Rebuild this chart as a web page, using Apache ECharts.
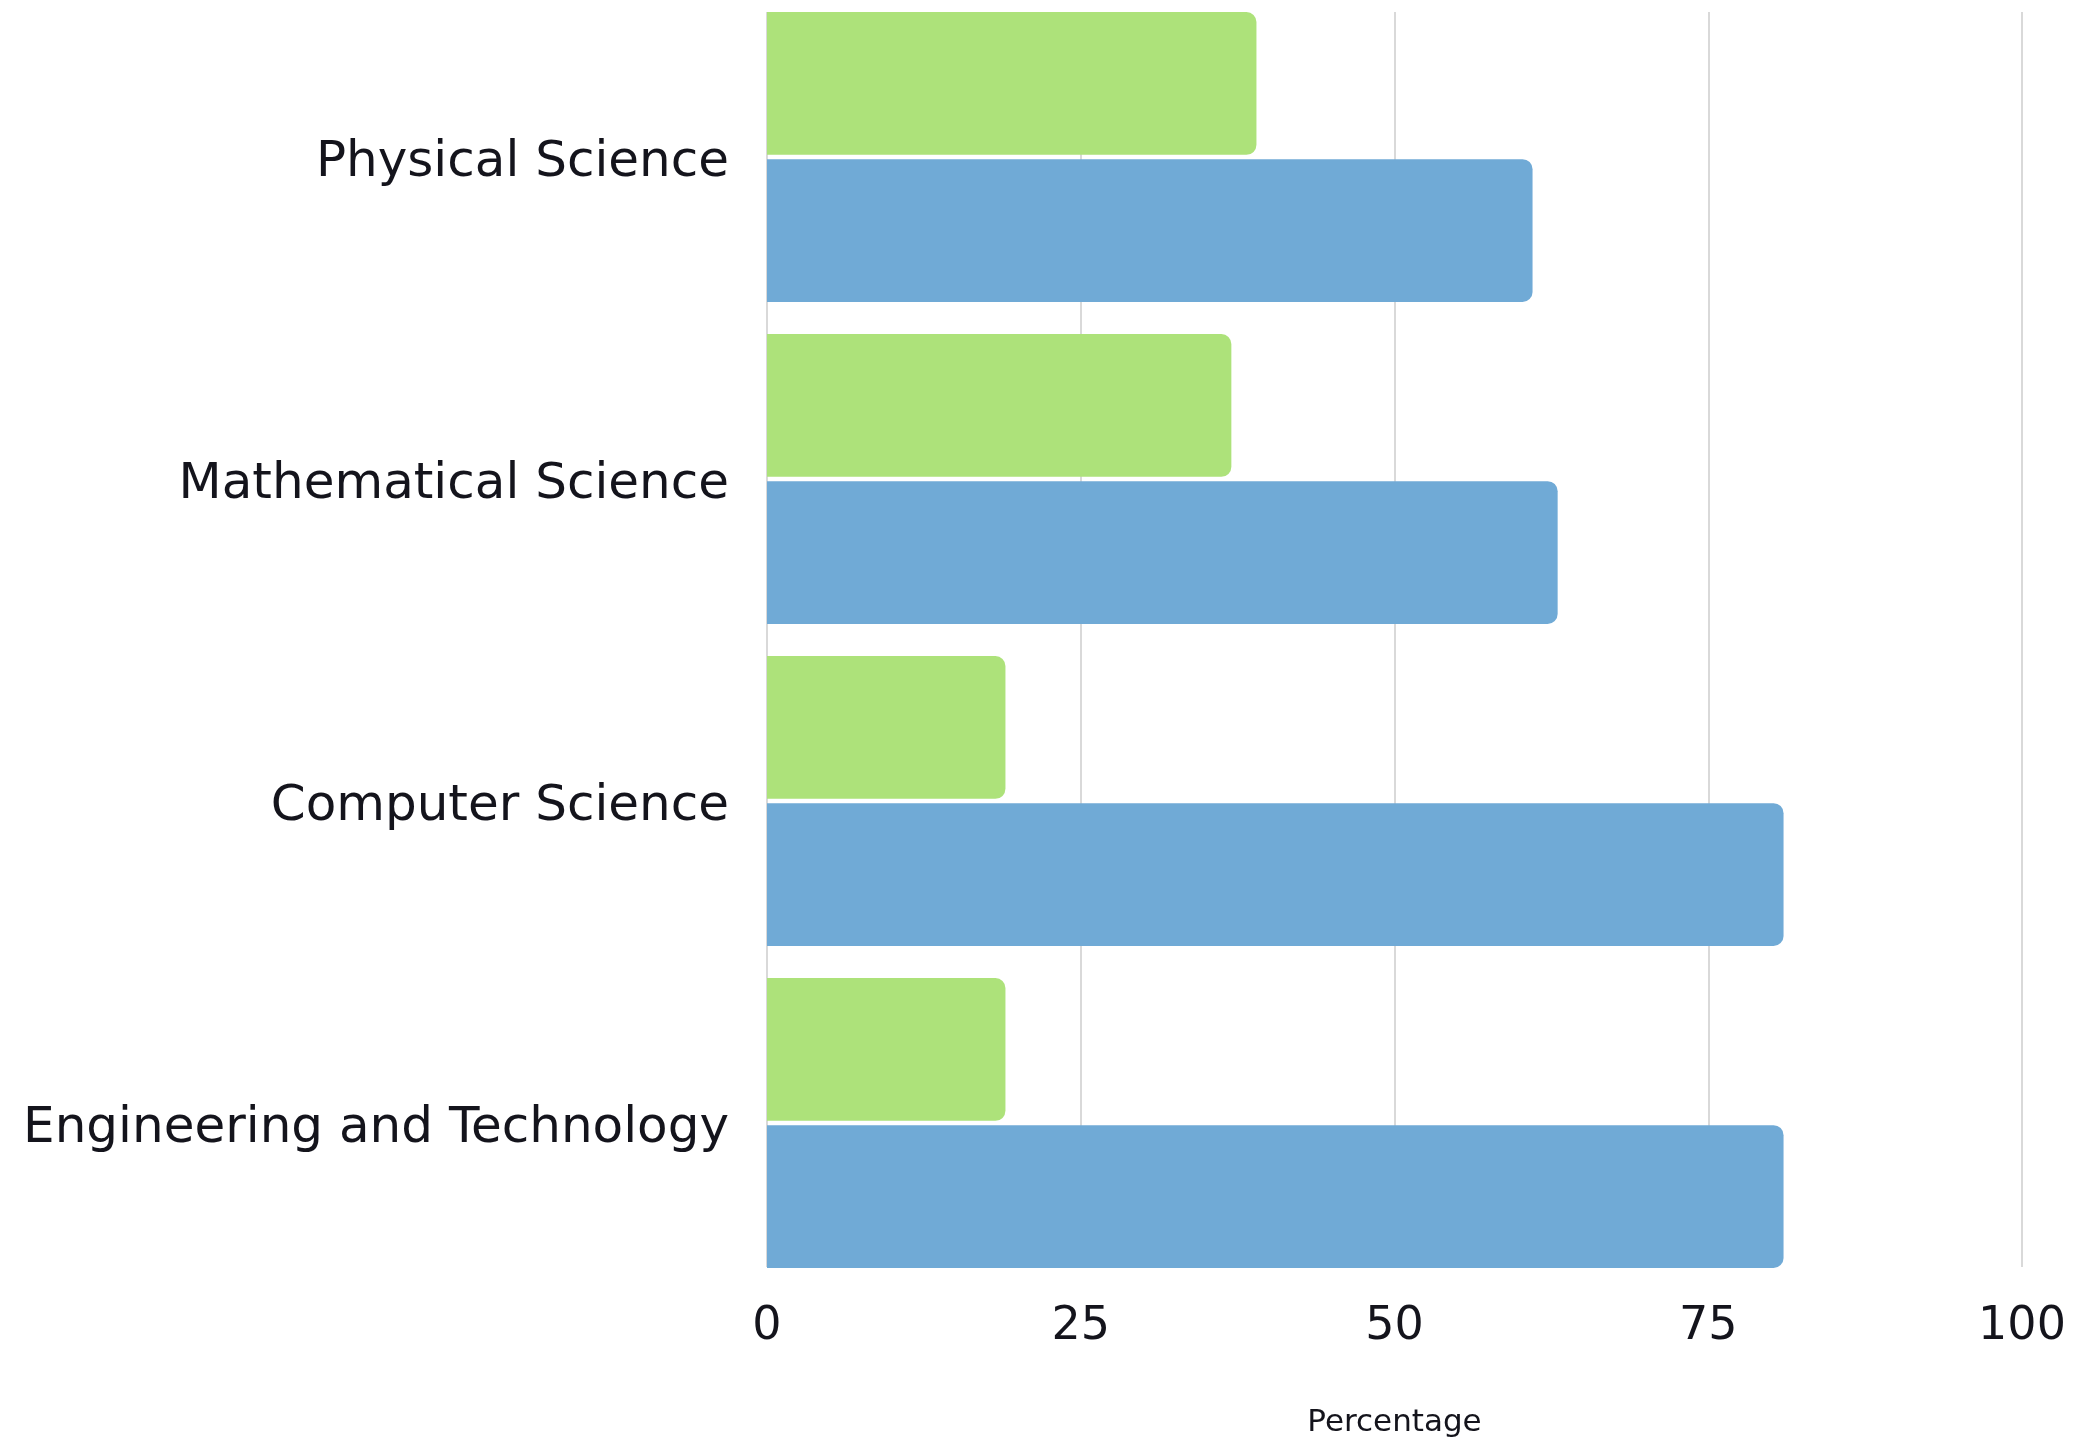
<!DOCTYPE html>
<html>
<head>
<meta charset="utf-8">
<script src="https://cdn.jsdelivr.net/npm/echarts@6/dist/echarts.min.js"></script>
<style>
html,body{margin:0;padding:0;background:#ffffff;}
#chart{width:2076px;height:1440px;}
</style>
</head>
<body>
<div id="chart"></div>
<script>
const categories = ['Physical Science', 'Mathematical Science', 'Computer Science', 'Engineering and Technology'];
const greenValues = [39, 37, 19, 19];
const blueValues = [61, 63, 81, 81];
const xTicks = [0, 25, 50, 75, 100];
const xAxisName = 'Percentage';

const FONT = 'DejaVu Sans';
const TEXT = '#14141c';

const chart = echarts.init(document.getElementById('chart'), null, {renderer: 'canvas'});
chart.setOption({
  backgroundColor: '#ffffff',
  animation: false,
  grid: [
    {left: 767, right: 54, top: -4, height: 1288, containLabel: false, outerBoundsMode: 'none'},
    {left: 767, right: 54, top: 12, height: 1255, containLabel: false, outerBoundsMode: 'none'}
  ],
  xAxis: [
    {gridIndex: 0, type: 'value', min: xTicks[0], max: xTicks[xTicks.length - 1], interval: 25, show: false},
    {gridIndex: 1, type: 'value', min: xTicks[0], max: xTicks[xTicks.length - 1], interval: 25,
     axisLine: {show: false}, axisTick: {show: false},
     splitLine: {show: true, lineStyle: {color: '#cccccc', width: 1.5}},
     axisLabel: {color: TEXT, fontFamily: FONT, fontSize: 46, margin: 37},
     name: xAxisName, nameLocation: 'middle', nameGap: 140,
     nameTextStyle: {color: TEXT, fontFamily: FONT, fontSize: 31}}
  ],
  yAxis: [
    {gridIndex: 0, type: 'category', data: categories, inverse: true,
     axisLine: {show: false}, axisTick: {show: false}, splitLine: {show: false},
     axisLabel: {margin: 38, formatter: function (v) { return '{c|' + v + '}'; },
       rich: {c: {color: TEXT, fontFamily: FONT, fontSize: 50, padding: [13, 0, 0, 0]}}}},
    {gridIndex: 1, type: 'value', show: false}
  ],
  series: [
    {type: 'bar', name: 'Green', xAxisIndex: 0, yAxisIndex: 0, data: greenValues,
     barCategoryGap: '10%', barGap: '3%', z: 3,
     itemStyle: {color: '#ade27a', borderRadius: [0, 10, 10, 0]}},
    {type: 'bar', name: 'Blue', xAxisIndex: 0, yAxisIndex: 0, data: blueValues,
     barCategoryGap: '10%', barGap: '3%', z: 3,
     itemStyle: {color: '#70aad6', borderRadius: [0, 10, 10, 0]}}
  ]
});
</script>
</body>
</html>
